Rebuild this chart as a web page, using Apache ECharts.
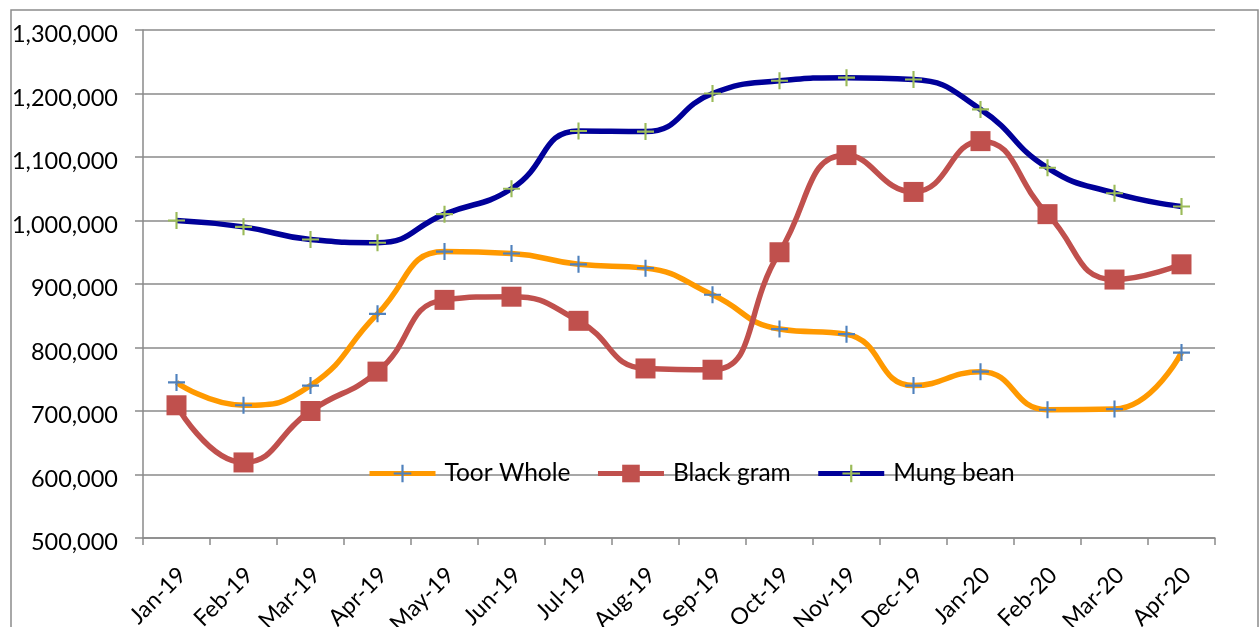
<!DOCTYPE html>
<html>
<head>
<meta charset="utf-8">
<script src="https://cdn.jsdelivr.net/npm/echarts@6/dist/echarts.min.js"></script>
<style>
  html, body { margin: 0; padding: 0; background: #ffffff; }
  #chart { width: 1259px; height: 627px; }
</style>
</head>
<body>
<div id="chart"></div>
<script>
// Monthly prices, Jan-19 to Apr-20
const months = ['Jan-19', 'Feb-19', 'Mar-19', 'Apr-19', 'May-19', 'Jun-19', 'Jul-19', 'Aug-19',
                'Sep-19', 'Oct-19', 'Nov-19', 'Dec-19', 'Jan-20', 'Feb-20', 'Mar-20', 'Apr-20'];

const toorWhole = [745000, 709000, 740000, 853000, 951000, 948000, 931000, 925000,
                   883000, 829000, 821000, 740000, 762000, 702000, 703000, 792000];

const blackGram = [709000, 619000, 700000, 762000, 875000, 880000, 842000, 767000,
                   765000, 950000, 1103000, 1045000, 1125000, 1010000, 907000, 931000];

const mungBean = [1000000, 990000, 970000, 965000, 1010000, 1050000, 1141000, 1140000,
                  1200000, 1220000, 1225000, 1222000, 1175000, 1083000, 1043000, 1022000];

const yTicks = { min: 500000, max: 1300000, step: 100000 };

const FONT = 'Lato, "Noto Sans", sans-serif';
const GRID = '#8a8a8a';
// thin plus sign used as a point marker
const PLUS = 'path://M7,0h2v7h7v2h-7v7h-2v-7h-7v-2h7z';

const chart = echarts.init(document.getElementById('chart'));

function lineSeries(name, data, color, symbol, symbolSize, markColor) {
  return {
    name: name,
    type: 'line',
    data: data,
    smooth: 0.5,
    symbol: symbol,
    symbolSize: symbolSize,
    showAllSymbol: true,
    lineStyle: { color: color, width: 5.5 },
    itemStyle: { color: markColor, borderWidth: 0 },
    emphasis: { disabled: true },
    animation: false
  };
}

chart.setOption({
  animation: false,
  backgroundColor: '#ffffff',
  graphic: [{
    type: 'rect',
    shape: { x: 11, y: 10, width: 1247, height: 640 },
    style: { fill: 'none', stroke: '#8c8c8c', lineWidth: 1.5 },
    silent: true
  }],
  grid: { left: 143, right: 44, top: 30, bottom: 89, containLabel: false, outerBoundsMode: 'none' },
  legend: {
    left: 367,
    top: 461,
    padding: 0,
    itemWidth: 66,
    itemHeight: 22,
    itemGap: 25,
    lineStyle: { width: 5 },
    textStyle: { fontFamily: FONT, fontSize: 24.5, color: '#000000', padding: [0, 0, 0, 4] },
    data: ['Toor Whole', 'Black gram', 'Mung bean']
  },
  xAxis: {
    type: 'category',
    data: months,
    boundaryGap: true,
    axisLine: { show: true, lineStyle: { color: GRID, width: 1.5 } },
    axisTick: { show: true, length: 7, alignWithLabel: false, lineStyle: { color: GRID, width: 1.5 } },
    axisLabel: {
      interval: 0,
      rotate: 45,
      margin: 39,
      padding: [0, -8, 0, 0],
      fontFamily: FONT,
      fontSize: 23,
      color: '#000000'
    },
    splitLine: { show: false }
  },
  yAxis: {
    type: 'value',
    min: yTicks.min,
    max: yTicks.max,
    interval: yTicks.step,
    axisLine: { show: true, lineStyle: { color: GRID, width: 1.5 } },
    axisTick: { show: true, length: 8, lineStyle: { color: GRID, width: 1.5 } },
    axisLabel: {
      margin: 25,
      fontFamily: FONT,
      fontSize: 23.5,
      color: '#000000',
      formatter: v => '{v|' + v.toLocaleString('en-US') + '}',
      rich: { v: { fontFamily: FONT, fontSize: 23.5, color: '#000000', padding: [9, 0, 0, 0] } }
    },
    splitLine: { show: true, lineStyle: { color: GRID, width: 1.5 } }
  },
  series: [
    lineSeries('Toor Whole', toorWhole, '#FF9900', PLUS, 17, '#4F81BD'),
    lineSeries('Black gram', blackGram, '#C0504D', 'rect', 20, '#C0504D'),
    lineSeries('Mung bean', mungBean, '#000099', PLUS, 17, '#9BBB59')
  ]
});
</script>
</body>
</html>
